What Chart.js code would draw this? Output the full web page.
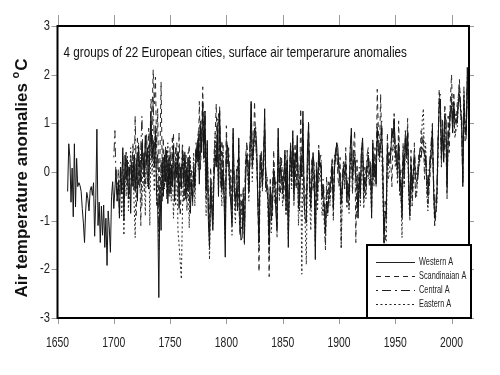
<!DOCTYPE html>
<html>
<head>
<meta charset="utf-8">
<script src="https://cdn.jsdelivr.net/npm/chart.js@4"></script>
<style>
  body { margin: 0; background: #fff; }
</style>
</head>
<body>
<canvas id="anomalyChart" width="500" height="375"></canvas>
<script>
const seriesLabels = ['Western A', 'Scandinaian A', 'Central A', 'Eastern A'];
const xTicks = [1650, 1700, 1750, 1800, 1850, 1900, 1950, 2000];
const yTicks = [-3, -2, -1, 0, 1, 2, 3];

// yearly anomalies, first year given separately
const westernStart = 1659;
const western = [
  -0.40, 0.58, 0.30, -0.62, 0.08, -0.92, 0.58, -0.72, 0.28, -0.30,
  -0.22, -0.28, -0.40, -0.75, -1.05, -1.45, -0.80, -0.42, -0.55, -0.80,
  -0.38, -0.30, -0.48, -0.22, -1.32, -0.55, 0.88, -1.10, -0.62, -1.45,
  -0.70, -1.30, -0.68, -1.55, -0.95, -1.92, -0.80, -1.15, -1.65, -0.50,
  -0.20, -0.75, -0.35, 0.05, -0.60, -0.20, -0.95, 0.10, -0.45, 0.50,
  -1.00, 0.35, -0.15, 0.25, -0.55, 0.10, -0.85, 0.20, -0.30, 0.35,
  -0.40, 0.25, -0.60, 0.55, 0.10, -0.20, 0.60, 0.30, -0.10, 0.75,
  0.20, 0.50, -0.35, 0.40, 1.25, 0.30, 0.65, 0.10, 0.85, -0.45,
  -0.70, -2.58, -0.30, -1.20, 0.20, -0.50, 0.35, -0.20, 0.45, -0.65,
  0.30, -0.45, 0.15, -0.30, 0.55, -0.60, 0.20, -0.10, 0.40, -0.75,
  0.10, -0.35, 0.45, -0.20, 0.30, -0.55, 0.10, -0.40, 0.25, -0.85,
  -0.20, -0.60, 0.05, -0.30, 0.45, 0.20, 0.70, -0.25, 0.95, 0.40,
  1.45, 0.30, 1.25, -0.40, 0.65, -1.00, -1.55, -0.30, -0.80, -1.20,
  -0.15, 0.35, 0.10, 0.85, -0.50, 1.25, 0.30, -0.35, 0.05, -0.60,
  -1.75, 0.40, 0.55, 0.20, -0.30, -0.70, -1.10, 0.90, -0.40, -0.55,
  -0.35, -0.80, 0.70, -1.00, -1.40, -1.35, -0.60, -1.45, -0.25, 0.35,
  0.20, -0.40, 0.40, 1.45, 0.10, 0.45, 0.90, 0.85, 0.50, -0.70,
  -1.45, 0.35, 0.10, -0.30, 0.15, 1.30, -0.25, -0.40, -0.50, -1.50,
  -0.30, -1.00, -0.60, 0.00, -0.20, -0.85, -1.20, 0.90, -0.20, 0.15,
  -0.10, -0.45, -0.20, 0.45, -0.80, 0.25, -1.55, -0.15, 0.55, -0.10,
  0.85, -0.45, 0.40, 0.20, 0.75, -0.75, -0.55, 0.25, -0.10, 1.25,
  -0.60, -0.95, -1.05, 0.45, 1.00, -0.30, -0.75, -0.10, 0.40, -0.05,
  -1.80, 0.05, -0.40, 0.45, 0.10, 0.20, -0.55, -0.30, -0.75, -1.25,
  -0.60, -0.85, -0.50, -0.40, -0.15, 0.10, -0.75, 0.05, 0.35, 0.60,
  0.50, 0.00, -0.20, -0.65, -0.35, 0.10, -0.05, 0.15, -0.60, -0.30,
  -0.55, 0.45, 0.90, -0.15, 0.20, 0.30, -0.15, -0.20, -0.95, -0.10,
  -0.50, 0.45, 0.70, -0.40, -0.10, -0.30, 0.20, 0.35, -0.05, 0.10,
  -0.95, 0.60, -0.10, 0.15, -0.25, 0.85, 0.45, 0.30, 0.55, 0.90,
  -0.10, -1.45, -0.80, -0.95, 0.50, 0.20, 0.20, 0.35, 0.90, 0.70,
  1.10, 0.45, 0.20, 0.05, 0.60, -0.40, -0.15, -0.95, 0.30, 0.00,
  0.70, 0.35, 0.80, -0.35, -0.90, 0.15, -0.40, -0.05, 0.30, -0.10,
  -0.20, -0.15, 0.15, 0.35, 0.30, 0.50, 0.45, 0.40, 0.25, -0.15,
  -0.50, -0.10, 0.20, 0.50, 0.90, -0.30, -0.95, -0.80, -0.45, 0.60,
  1.30, 1.50, 0.30, 0.85, 0.20, 1.20, 1.05, -0.30, 0.70, 0.90,
  1.25, 1.35, 0.80, 1.45, 1.00, 1.10, 1.00, 1.40, 1.60, 1.30,
  1.05, -0.30, 1.40, 0.95, 0.75, 2.15, 1.50
];

const scandStart = 1720;
const scandinavian = [
  -0.90, 0.40, -0.30, 0.25, -1.10, 0.55, 0.10, -0.40, 0.65, 0.20,
  -0.20, 0.90, 0.40, 1.50, 1.20, 2.10, 1.40, 1.95, 0.50, 1.30,
  -0.60, 0.30, 1.85, 0.10, 0.70, -0.30, 0.40, -0.55, 0.15, -0.20,
  0.50, -0.40, 0.25, 0.80, -0.15, 0.35, 0.60, -0.50, 0.20, -0.90,
  -0.30, 0.30, -0.60, 0.45, 0.10, -0.80, 0.25, 0.55, -0.35, 0.05,
  -0.70, 0.20, -0.40, 0.30, 0.60, 0.20, 1.45, 0.05, 0.80, 1.75,
  0.55, 0.90, -0.60, 0.30, -0.75, -1.20, 0.10, -0.40, -0.90, 0.35,
  0.75, 1.40, 0.20, 1.20, 0.40, -0.30, 0.65, 0.10, -0.45, -1.10,
  0.95, 0.15, 0.40, -0.35, 0.05, -1.00, 0.55, -0.25, -0.80, -0.20,
  0.25, -0.60, -1.30, -0.45, -0.90, -0.30, -1.10, 0.30, 0.55, 0.15,
  -0.40, 0.25, 1.40, 0.50, 0.25, 1.45, 0.70, 0.05, -0.60, -2.05,
  0.05, 0.30, -0.20, 0.45, 0.80, -0.35, -0.10, -0.70, -2.15, -0.50,
  -0.40, -0.90, 0.45, -0.30, -0.20, -1.10, 0.40, 0.10, -0.45, 0.30,
  -0.20, -0.60, 0.10, -0.20, 0.30, -0.95, -0.35, 0.60, -0.20, 0.45,
  -0.60, 0.20, -0.35, 0.40, -0.15, -0.80, 1.30, -0.10, 0.70, -0.25,
  -0.40, -0.60, -0.10, 1.05, -0.45, -0.20, 0.30, -0.40, 0.00, -1.10,
  0.00, -0.60, 0.55, 0.05, 0.20, -0.45, -0.55, -0.90, -1.60, -0.10,
  -0.50, -0.20, -0.55, -0.35, 0.30, -0.90, 0.35, 0.20, 0.60, -0.10,
  -0.30, 0.30, -1.55, -0.05, 0.00, -0.35, 0.50, -0.20, -0.45, -0.75,
  0.20, 0.35, -0.40, 0.50, 0.85, -1.45, 0.25, -0.40, -0.15, -0.55,
  0.30, 0.40, -0.60, -0.20, -0.45, 0.05, 0.20, -0.30, -0.10, -0.40,
  0.40, -0.15, 0.50, -0.30, 1.70, 0.85, 0.30, 1.60, 0.55, 0.30,
  -1.50, -1.75, -0.90, 0.80, 0.10, 0.40, 0.25, -0.30, 0.60, 1.20,
  0.30, 0.55, -0.10, 1.05, 0.20, -0.60, -0.45, 0.60, -0.25, 0.85,
  0.30, 1.10, -0.40, -0.35, 0.45, -0.70, -0.20, 0.60, -0.55, -0.35,
  0.05, 0.40, 0.30, 0.85, 0.60, 0.75, -0.15, 0.35, -0.30, -0.70,
  -0.40, -0.05, 0.30, 0.55, -0.25, -1.10, -0.90, -0.55, 0.35, 1.70,
  1.35, 0.10, 1.10, 0.20, 0.70, 0.60, -0.55, 1.15, 0.40, 1.50,
  2.00, 1.05, 1.20, 0.80, 0.95, 1.40, 1.55, 1.90, 1.30, 0.85,
  -0.25, 1.75, 0.60, 0.70, 1.85, 1.00
];

const centralStart = 1700;
const central = [
  0.30, 0.85, -0.20, -0.60, 0.05, -0.90, 0.20, -0.30, 0.40, -0.70,
  -0.10, 0.45, -0.30, 0.20, -0.55, 0.35, -0.10, 0.60, -0.40, 1.15,
  -0.20, 0.70, 0.20, -0.35, 0.50, 1.15, 0.05, 0.40, -0.25, 0.80,
  0.35, -0.10, 0.60, 1.05, 0.25, 1.55, 0.50, 0.95, -0.15, 0.40,
  -1.20, -0.40, 0.15, -0.60, 0.30, -0.20, 0.55, -0.35, 0.20, -0.50,
  0.35, -0.25, 0.70, 0.10, -0.40, 0.50, 0.25, -0.15, 0.80, -0.30,
  -0.10, 0.60, 0.20, -0.45, 0.35, -0.10, 0.40, -0.60, 0.15, -0.30,
  -0.55, 0.10, -0.25, 0.60, 0.30, 0.85, 0.15, 1.05, 0.45, 1.10,
  0.30, 1.25, -0.35, 0.50, -0.80, -1.30, -0.20, -0.60, -1.00, 0.20,
  0.60, 0.25, 1.10, -0.20, 1.35, 0.10, -0.45, 0.55, -0.25, -1.20,
  0.75, 0.30, 0.50, -0.15, -0.45, -0.85, 0.80, -0.20, -0.70, 0.10,
  -0.55, 0.55, -0.80, -1.10, -1.20, -0.40, -1.30, 0.05, 0.60, 0.40,
  -0.25, 0.65, 1.20, 0.30, 0.55, 0.80, 0.60, 0.35, -0.40, -1.20,
  0.20, 0.45, -0.10, 0.35, 1.10, 0.05, -0.20, -0.35, -1.25, -0.15,
  -0.75, -0.30, 0.20, -0.05, -0.60, -0.95, 0.70, -0.40, 0.30, 0.05,
  -0.30, -0.05, 0.35, -0.55, 0.45, -1.20, 0.10, 0.40, 0.15, 0.70,
  -0.30, 0.55, 0.05, 0.60, -0.50, -0.35, 0.40, 0.10, 1.00, -0.40,
  -0.70, -0.85, 0.25, 0.80, -0.10, -0.55, 0.10, 0.35, 0.15, -1.40,
  0.20, -0.25, 0.30, 0.25, 0.35, -0.35, -0.15, -0.55, -1.00, -0.40,
  -0.70, -0.35, -0.20, 0.00, 0.25, -0.55, 0.20, 0.45, 0.55, 0.35,
  0.15, 0.05, -0.45, -0.15, 0.25, 0.10, 0.30, -0.45, -0.10, -0.40,
  0.55, 0.75, 0.00, 0.35, 0.45, 0.05, -0.05, -0.75, 0.10, -0.30,
  0.55, 0.60, -0.25, 0.10, -0.15, 0.35, 0.50, 0.10, 0.25, -0.70,
  0.70, 0.05, 0.30, -0.05, 1.00, 0.55, 0.45, 0.70, 1.05, 0.10,
  -1.25, -0.60, -0.75, 0.60, 0.35, 0.30, 0.50, 0.75, 0.85, 0.95,
  0.55, 0.35, 0.15, 0.75, -0.20, 0.05, -0.75, 0.45, 0.15, 0.85,
  0.50, 0.90, -0.20, -0.70, 0.30, -0.25, 0.10, 0.45, 0.05, -0.05,
  0.05, 0.25, 0.50, 0.45, 0.65, 0.55, 0.50, 0.40, 0.05, -0.35,
  0.05, 0.35, 0.65, 1.00, -0.15, -0.75, -0.60, -0.30, 0.75, 1.40,
  1.60, 0.45, 1.00, 0.35, 1.35, 1.15, -0.10, 0.85, 1.05, 1.40,
  1.50, 0.95, 1.60, 1.15, 1.20, 1.10, 1.55, 1.75, 1.40, 1.20,
  -0.10, 1.55, 1.10, 0.85, 1.95, 1.60
];

const easternStart = 1705;
const eastern = [
  -0.40, 0.10, -0.90, -0.20, -1.30, 0.20, -0.50, 0.35, -0.80, -0.10,
  0.50, -0.30, 0.20, -0.60, -1.35, 0.15, -0.40, 0.60, -0.20, 0.30,
  -0.70, 0.40, 0.10, -0.90, 0.35, -0.30, 0.55, -1.10, 0.70, -0.05,
  0.45, -0.40, 0.80, -0.70, -0.20, -1.60, -0.80, 0.25, -0.50, 0.20,
  -0.35, 0.45, -0.10, 0.60, -0.45, 0.25, -0.60, 0.10, -0.95, -0.30,
  -0.70, 0.40, -1.20, -1.50, -1.85, -2.20, -0.80, 0.35, -0.60, 0.20,
  -0.45, -0.10, -1.15, 0.30, -0.50, -0.20, 0.40, -0.70, 0.15, 0.55,
  0.05, 0.85, 0.35, 0.70, 0.95, 0.20, 0.45, -0.90, 0.60, -0.50,
  -1.80, -0.60, -0.20, -1.10, 0.05, 0.80, 0.10, 0.55, -0.50, 0.90,
  -0.15, -0.70, 0.40, -0.55, -1.40, 0.35, 0.20, 0.05, -0.50, -0.20,
  -1.30, 0.45, -0.60, -1.05, -0.30, -0.80, 0.30, -1.20, -0.65, -1.00,
  -0.50, -1.50, 0.15, 0.25, -0.10, -0.60, 0.50, 0.90, -0.20, 0.40,
  0.60, 0.95, 0.20, -0.55, -1.60, -0.10, 0.35, -0.40, 0.20, 0.70,
  -0.40, -0.15, -0.80, -1.80, -0.40, -1.25, -0.50, 0.10, -0.65, -0.40,
  -1.35, 0.55, -0.60, 0.05, -0.25, -0.70, -0.15, 0.20, -0.90, 0.15,
  -1.40, -0.45, 0.35, -0.35, 0.50, -0.70, 0.15, -0.30, 0.45, -1.10,
  -0.55, 0.10, -2.10, 0.60, -0.65, -1.10, -1.90, 0.05, 0.50, -0.60,
  -1.20, -0.15, 0.10, -0.20, -1.55, -0.30, -0.80, 0.25, -0.20, 0.05,
  -0.90, -0.60, -1.10, -1.50, -0.45, -0.90, -0.30, -0.70, -0.10, 0.05,
  -1.00, 0.10, 0.30, 0.45, 0.05, 0.20, -0.30, -1.55, -0.50, 0.20,
  -0.20, 0.05, -0.75, -0.55, -0.85, 0.10, 0.40, -0.45, 0.20, 0.30,
  -0.20, -0.95, -0.60, -0.05, -0.70, 0.25, 0.30, -0.75, -0.35, -0.55,
  0.15, -0.15, -0.10, -0.35, -0.85, 0.50, -0.30, 0.10, -0.10, 0.95,
  0.35, 0.20, 0.50, 0.40, -0.60, -1.35, -1.70, -1.50, 0.30, -0.15,
  0.05, 0.40, 0.50, 0.45, 0.80, 0.10, 0.25, -0.25, 0.55, -0.50,
  -0.40, -1.35, 0.25, -0.30, 0.55, 0.20, 0.60, -0.55, -1.00, -0.10,
  -0.60, -0.20, 0.15, -0.40, -0.50, -0.05, 0.10, 0.25, 0.35, 1.10,
  1.30, 0.15, 0.60, -0.45, -0.80, -0.30, 0.10, 0.40, 0.70, -0.10,
  -1.10, -0.85, -0.65, 0.40, 1.55, 1.45, 0.15, 0.90, 0.30, 1.05,
  0.75, -0.45, 0.60, 0.80, 1.15, 1.60, 0.85, 1.30, 0.70, 0.85,
  0.90, 1.35, 1.80, 1.20, 0.95, -0.20, 1.65, 0.75, 0.90, 1.70,
  1.35
];

const sansFont = '"Liberation Sans", Arial, sans-serif';

function toPoints(start, values) {
  return values.map((v, i) => ({ x: start + i, y: v }));
}

// the original uses a condensed face, squeeze the text horizontally
function narrowText(c, text, x, y, size, squeeze, align) {
  c.save();
  c.font = size + 'px ' + sansFont;
  c.textAlign = align;
  c.translate(x, y);
  c.scale(squeeze, 1);
  c.fillText(text, 0, 0);
  c.restore();
}

const lineDashes = [[], [5, 4], [2, 4, 9, 4], [2, 2.5]];

// frame, outer ticks, tick labels, inner title, rotated y title and boxed legend
const decorations = {
  id: 'decorations',
  afterDraw(chart) {
    const c = chart.ctx;
    const a = chart.chartArea;
    const xs = chart.scales.x;
    const ys = chart.scales.y;
    c.save();

    c.strokeStyle = '#9a9a9a';
    c.lineWidth = 1;
    c.beginPath();
    xTicks.forEach(t => {
      const px = Math.round(xs.getPixelForValue(t)) + 0.5;
      c.moveTo(px, a.top - 11); c.lineTo(px, a.top);
      c.moveTo(px, a.bottom); c.lineTo(px, a.bottom + 6);
    });
    yTicks.forEach(t => {
      const py = Math.round(ys.getPixelForValue(t)) + 0.5;
      c.moveTo(a.left - 6, py); c.lineTo(a.left, py);
      c.moveTo(a.right, py); c.lineTo(a.right + 5, py);
    });
    c.stroke();

    c.strokeStyle = '#000';
    c.lineWidth = 2;
    c.strokeRect(a.left, a.top, a.right - a.left, a.bottom - a.top);

    c.fillStyle = '#222';
    c.textBaseline = 'middle';
    xTicks.forEach(t => narrowText(c, String(t), xs.getPixelForValue(t), 343, 14, 0.74, 'center'));
    yTicks.forEach(t => narrowText(c, String(t), 50, ys.getPixelForValue(t), 14, 0.8, 'right'));

    c.fillStyle = '#111';
    c.textBaseline = 'alphabetic';
    narrowText(c, '4 groups of 22 European cities, surface air temperarure anomalies', a.left + 6, 57, 15, 0.78, 'left');

    // y title with superscript o
    const main = 'Air temperature anomalies ';
    const bigFont = 'bold 17px ' + sansFont;
    const smallFont = 'bold 11px ' + sansFont;
    c.textAlign = 'left';
    c.font = bigFont;
    const w1 = c.measureText(main).width;
    const w3 = c.measureText('C').width;
    c.font = smallFont;
    const w2 = c.measureText('o').width + 1;
    const x0 = -(w1 + w2 + w3) / 2;
    c.translate(27, 178);
    c.rotate(-Math.PI / 2);
    c.font = bigFont;
    c.fillText(main, x0, 0);
    c.font = smallFont;
    c.fillText('o', x0 + w1, -8);
    c.font = bigFont;
    c.fillText('C', x0 + w1 + w2, 0);
    c.setTransform(1, 0, 0, 1, 0, 0);

    // legend
    const lx = 367, ly = 245, lw = 104, lh = a.bottom - ly;
    c.fillStyle = '#fff';
    c.fillRect(lx, ly, lw, lh);
    c.strokeStyle = '#000';
    c.lineWidth = 2;
    c.strokeRect(lx, ly, lw, lh);
    c.textBaseline = 'middle';
    chart.data.datasets.forEach((ds, i) => {
      const rowY = 262 + i * 14 + 0.5;
      c.strokeStyle = '#222';
      c.lineWidth = 1;
      c.setLineDash(ds.borderDash || []);
      c.beginPath();
      c.moveTo(376, rowY);
      c.lineTo(415, rowY);
      c.stroke();
      c.setLineDash([]);
      c.fillStyle = '#222';
      narrowText(c, ds.label, 419, rowY, 10.5, 0.7, 'left');
    });
    c.restore();
  }
};

const seriesData = [
  toPoints(westernStart, western),
  toPoints(scandStart, scandinavian),
  toPoints(centralStart, central),
  toPoints(easternStart, eastern)
];
const seriesColors = ['#151515', '#2a2a2a', '#2a2a2a', '#2a2a2a'];

const ctx = document.getElementById('anomalyChart').getContext('2d');
const chart = new Chart(ctx, {
  type: 'line',
  data: {
    datasets: seriesLabels.map((label, i) => ({
      label: label,
      data: seriesData[i],
      borderColor: seriesColors[i],
      borderWidth: 1,
      borderDash: lineDashes[i],
      pointRadius: 0,
      tension: 0,
      fill: false
    }))
  },
  options: {
    responsive: false,
    animation: false,
    devicePixelRatio: 1,
    layout: {
      padding: { top: 26, right: 31, left: 0, bottom: 0 }
    },
    plugins: {
      legend: { display: false },
      title: { display: false },
      tooltip: { enabled: false }
    },
    scales: {
      x: {
        type: 'linear',
        min: 1650,
        max: 2015.5,
        afterBuildTicks: scale => { scale.ticks = xTicks.map(v => ({ value: v })); },
        afterFit: scale => { scale.height = 57; },
        grid: { display: false },
        border: { display: false },
        ticks: { display: false }
      },
      y: {
        min: -3,
        max: 3,
        afterBuildTicks: scale => { scale.ticks = yTicks.map(v => ({ value: v })); },
        afterFit: scale => { scale.width = 57.5; },
        grid: { display: false },
        border: { display: false },
        ticks: { display: false }
      }
    }
  },
  plugins: [decorations]
});
</script>
</body>
</html>
